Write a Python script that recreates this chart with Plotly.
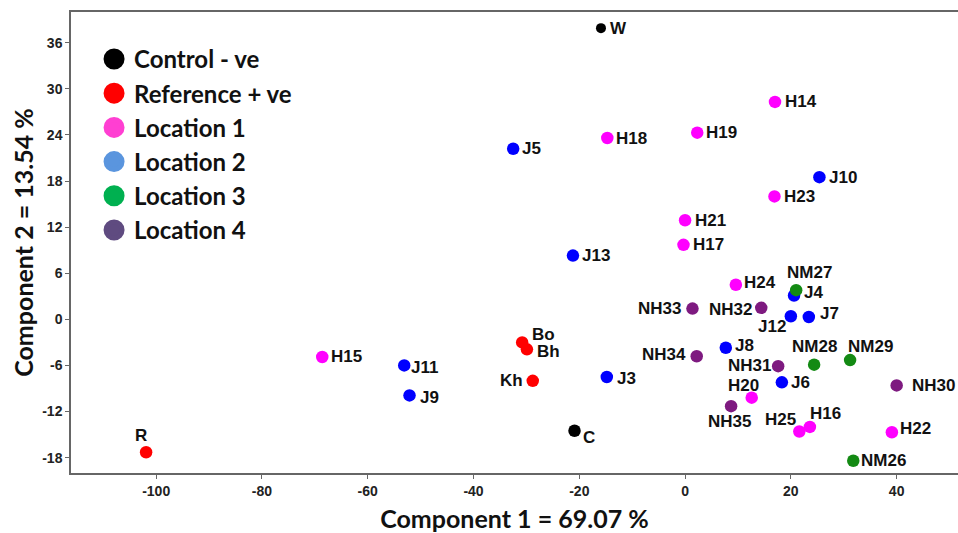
import plotly.graph_objects as go

# ---------------- data ----------------
groups = ["Control - ve", "Reference + ve", "Location 1", "Location 2", "Location 3", "Location 4"]

ctrl_names = ["W", "C"]
ctrl_x = [-15.9, -20.9]
ctrl_y = [37.9, -14.5]

ref_names = ["R", "Bo", "Bh", "Kh"]
ref_x = [-101.9, -30.8, -29.9, -28.8]
ref_y = [-17.3, -3.0, -3.9, -8.0]

loc1_names = ["H14", "H15", "H16", "H17", "H18", "H19", "H20", "H21", "H22", "H23", "H24", "H25"]
loc1_x = [17.0, -68.6, 23.6, -0.3, -14.7, 2.3, 12.6, 0.0, 39.1, 16.9, 9.6, 21.6]
loc1_y = [28.3, -4.9, -14.0, 9.7, 23.6, 24.3, -10.2, 12.9, -14.7, 16.0, 4.5, -14.6]

loc2_names = ["J3", "J4", "J5", "J6", "J7", "J8", "J9", "J10", "J11", "J12", "J13"]
loc2_x = [-14.8, 20.6, -32.5, 18.3, 23.4, 7.7, -52.1, 25.4, -53.1, 20.0, -21.2]
loc2_y = [-7.5, 3.1, 22.2, -8.2, 0.3, -3.7, -9.9, 18.5, -6.0, 0.4, 8.3]

loc3_names = ["NM26", "NM27", "NM28", "NM29"]
loc3_x = [31.8, 21.0, 24.4, 31.2]
loc3_y = [-18.4, 3.8, -5.9, -5.3]

loc4_names = ["NH30", "NH31", "NH32", "NH33", "NH34", "NH35"]
loc4_x = [40.0, 17.6, 14.4, 1.4, 2.2, 8.7]
loc4_y = [-8.6, -6.1, 1.5, 1.4, -4.8, -11.3]

x_ticks = [-100, -80, -60, -40, -20, 0, 20, 40]
y_ticks = [-18, -12, -6, 0, 6, 12, 18, 24, 30, 36]

# ---------------- style ----------------
point_colors = ["#000000", "#FF0000", "#FF00FF", "#0000FF", "#138A13", "#7E1A80"]
legend_colors = ["#000000", "#FF0000", "#FF3FD2", "#5A95DE", "#00B050", "#5F4B80"]

# label placement: (anchor side, x shift px, y shift px; positive y = up)
label_style = {
    "W": ("left", 8, 0), "C": ("left", 7, -7),
    "R": ("center", -5, 17), "Bo": ("left", 9, 8), "Bh": ("left", 9, -2), "Kh": ("right", -9, 0),
    "H14": ("left", 9, 0), "H15": ("left", 8, 0), "H16": ("center", 16, 13), "H17": ("left", 9, 0),
    "H18": ("left", 8, 0), "H19": ("left", 8, 0), "H20": ("center", -8, 12), "H21": ("left", 9, 0),
    "H22": ("left", 7, 4), "H23": ("left", 9, 0), "H24": ("left", 7, 2), "H25": ("center", -19, 12),
    "J3": ("left", 9, -2), "J4": ("left", 9, 3), "J5": ("left", 8, 0), "J6": ("left", 8, 0),
    "J7": ("left", 10, 4), "J8": ("left", 8, 2), "J9": ("left", 9, -2), "J10": ("left", 9, 0),
    "J11": ("left", 6, -2), "J12": ("right", -4, -10), "J13": ("left", 8, 0),
    "NM26": ("left", 7, 0), "NM27": ("center", 13, 18), "NM28": ("center", 0, 18),
    "NM29": ("center", 20, 14),
    "NH30": ("left", 14, 0), "NH31": ("right", -6, 1), "NH32": ("right", -8, -2),
    "NH33": ("right", -10, 0), "NH34": ("right", -10, 2), "NH35": ("center", -2, -15),
}

series = [
    (ctrl_names, ctrl_x, ctrl_y),
    (ref_names, ref_x, ref_y),
    (loc1_names, loc1_x, loc1_y),
    (loc2_names, loc2_x, loc2_y),
    (loc3_names, loc3_x, loc3_y),
    (loc4_names, loc4_x, loc4_y),
]

label_font = dict(family="Liberation Sans, Arial, sans-serif", size=17, color="#111111", weight=700)

fig = go.Figure()

for i, (names, xs, ys) in enumerate(series):
    sizes = [10 if n == "W" else 12.5 for n in names]
    fig.add_trace(go.Scatter(
        x=xs, y=ys, mode="markers", text=names, hoverinfo="text+x+y",
        marker=dict(color=point_colors[i], size=sizes, opacity=1, line=dict(width=0)),
        name=groups[i], legendgroup=groups[i], showlegend=False,
        cliponaxis=False,
    ))
    for n, xv, yv in zip(names, xs, ys):
        side, dx, dy = label_style[n]
        fig.add_annotation(
            x=xv, y=yv, xref="x", yref="y", text=n, showarrow=False,
            xanchor=side, yanchor="middle", xshift=dx, yshift=dy,
            font=label_font, borderpad=0,
        )

# legend entries (legend swatches use the lighter palette of the original)
for i, g in enumerate(groups):
    fig.add_trace(go.Scatter(
        x=[None], y=[None], mode="markers", name=g, legendgroup=g,
        marker=dict(color=legend_colors[i], size=16, opacity=1,
                    line=dict(width=5, color=legend_colors[i])),
    ))

axis_font = dict(family="Liberation Sans, Arial, sans-serif", size=14, color="#222222", weight=700)
title_font = dict(family="Lato, Carlito, sans-serif", size=25, color="#111111", weight=700)

fig.update_layout(
    width=958, height=533,
    margin=dict(l=71, r=0, t=12, b=60),
    plot_bgcolor="white", paper_bgcolor="white",
    showlegend=True,
    legend=dict(
        x=0.026, y=0.946, xanchor="left", yanchor="top",
        bgcolor="rgba(0,0,0,0)",
        font=dict(family="Lato, Carlito, sans-serif", size=24, color="#111111", weight=700),
        itemsizing="trace", tracegroupgap=0,
    ),
    xaxis=dict(
        range=[-116.1, 51.6], tickvals=x_ticks, ticktext=[str(v) for v in x_ticks],
        showgrid=False, zeroline=False,
        showline=True, linecolor="#666666", linewidth=1.5, mirror=True,
        ticks="outside", ticklen=4, tickcolor="#666666", tickwidth=1.2,
        tickfont=axis_font,
        title=dict(text="Component 1 = 69.07 %", font=title_font, standoff=14),
    ),
    yaxis=dict(
        range=[-20.0, 40.0], tickvals=y_ticks, ticktext=[str(v) for v in y_ticks],
        showgrid=False, zeroline=False,
        showline=True, linecolor="#666666", linewidth=1.5,
        ticks="outside", ticklen=4, tickcolor="#666666", tickwidth=1.2,
        tickfont=axis_font,
        title=dict(text="Component 2 = 13.54 %", font=title_font, standoff=1),
    ),
)

fig.write_html(
    "out.html",
    config={"displayModeBar": False},
    post_script="document.body.style.margin='0';document.body.style.overflow='hidden';",
)
